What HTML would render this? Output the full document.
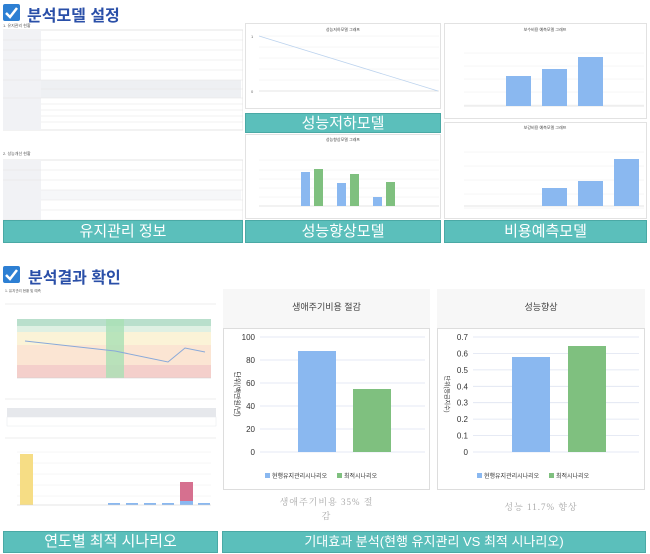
<!DOCTYPE html>
<html><head><meta charset="utf-8"><style>
*{margin:0;padding:0;box-sizing:border-box}
body{width:650px;height:554px;background:#fff;position:relative;overflow:hidden;font-family:"Liberation Sans","Noto Sans CJK KR",sans-serif}
.a{position:absolute}
.ban{position:absolute;background:#5bbfbb;color:#fff;text-align:center;font-size:15px;border:1px solid #4aa9a5}
.box{position:absolute;border:1px solid #e2e2e2;background:#fff}
.chk{position:absolute;width:17px;height:17px;background:#2d7fd3;border-radius:2px}
.ttl{position:absolute;color:#2a4fa8;font-weight:bold;font-size:16px}
</style></head><body>
<div class="chk" style="left:3px;top:4px"><svg width="17" height="17"><path d="M3 9 L7 13 L14 4" stroke="#fff" stroke-width="2.5" fill="none"/></svg></div>
<div class="ttl" style="left:27px;top:2px">분석모델 설정</div>

<svg class="a" style="left:3px;top:22px" width="240" height="198">
<rect x="0" y="8" width="240" height="100" fill="#fff" stroke="#e4e4e4"/>
<rect x="0" y="8" width="38" height="100" fill="#f1f2f5"/>
<rect x="38" y="58" width="200" height="18" fill="#eef0f3"/>
<g stroke="#e4e4e4" stroke-width="0.6">
<line x1="0" y1="18" x2="240" y2="18"/><line x1="0" y1="28" x2="240" y2="28"/><line x1="0" y1="38" x2="240" y2="38"/>
<line x1="38" y1="48" x2="240" y2="48"/><line x1="0" y1="58" x2="240" y2="58"/><line x1="38" y1="67" x2="240" y2="67"/>
<line x1="0" y1="76" x2="240" y2="76"/><line x1="38" y1="82" x2="240" y2="82"/><line x1="38" y1="88" x2="240" y2="88"/><line x1="38" y1="94" x2="240" y2="94"/><line x1="38" y1="100" x2="240" y2="100"/>
</g>
<rect x="0" y="138" width="240" height="78" fill="#fff" stroke="#e4e4e4"/>
<rect x="0" y="138" width="38" height="78" fill="#f1f2f5"/>
<rect x="38" y="168" width="200" height="10" fill="#f6f7f9"/>
<g stroke="#e4e4e4" stroke-width="0.6">
<line x1="0" y1="148" x2="240" y2="148"/><line x1="0" y1="158" x2="240" y2="158"/><line x1="38" y1="168" x2="240" y2="168"/><line x1="38" y1="178" x2="240" y2="178"/><line x1="38" y1="188" x2="240" y2="188"/><line x1="0" y1="198" x2="240" y2="198"/><line x1="38" y1="207" x2="240" y2="207"/>
</g>
<text x="0" y="5" font-size="4" fill="#555">1. 유지관리 현황</text>
<text x="0" y="133" font-size="4" fill="#555">2. 성능개선 현황</text>
</svg>
<div class="ban" style="left:3px;top:220px;width:240px;height:23px;line-height:21px">유지관리 정보</div>

<div class="box" style="left:245px;top:23px;width:196px;height:86px"></div>
<svg class="a" style="left:245px;top:23px" width="196" height="86">
<text x="98" y="8" font-size="4" text-anchor="middle" fill="#444">성능저하모델 그래프</text>
<g stroke="#eee" stroke-width="0.5"><line x1="14" y1="13" x2="194" y2="13"/><line x1="14" y1="24" x2="194" y2="24"/><line x1="14" y1="35" x2="194" y2="35"/><line x1="14" y1="46" x2="194" y2="46"/><line x1="14" y1="57" x2="194" y2="57"/></g>
<line x1="14" y1="68" x2="194" y2="68" stroke="#ccc" stroke-width="0.6"/>
<line x1="14" y1="13" x2="193" y2="68" stroke="#bcd3ee" stroke-width="0.8"/>
<text x="6" y="70" font-size="4" fill="#666">0</text><text x="6" y="15" font-size="4" fill="#666">1</text>
</svg>
<div class="ban" style="left:245px;top:113px;width:196px;height:20px;line-height:19px">성능저하모델</div>
<div class="box" style="left:245px;top:134px;width:196px;height:85px"></div>
<svg class="a" style="left:245px;top:134px" width="196" height="85">
<text x="98" y="7" font-size="4" text-anchor="middle" fill="#444">성능향상모델 그래프</text>
<g stroke="#eee" stroke-width="0.5"><line x1="14" y1="26" x2="194" y2="26"/><line x1="14" y1="36" x2="194" y2="36"/><line x1="14" y1="45" x2="194" y2="45"/><line x1="14" y1="54" x2="194" y2="54"/><line x1="14" y1="63" x2="194" y2="63"/></g>
<line x1="14" y1="72" x2="194" y2="72" stroke="#ccc" stroke-width="0.6"/>
<rect x="56" y="38" width="9" height="34" fill="#8ab8f0"/><rect x="69" y="35" width="9" height="37" fill="#7fc07f"/>
<rect x="92" y="49" width="9" height="23" fill="#8ab8f0"/><rect x="105" y="40" width="9" height="32" fill="#7fc07f"/>
<rect x="128" y="63" width="9" height="9" fill="#8ab8f0"/><rect x="141" y="48" width="9" height="24" fill="#7fc07f"/>
</svg>
<div class="ban" style="left:245px;top:220px;width:196px;height:23px;line-height:21px">성능향상모델</div>

<div class="box" style="left:444px;top:23px;width:203px;height:96px"></div>
<svg class="a" style="left:444px;top:23px" width="203" height="96">
<text x="101" y="8" font-size="4" text-anchor="middle" fill="#444">보수비용 예측모델 그래프</text>
<g stroke="#eee" stroke-width="0.5"><line x1="20" y1="30" x2="200" y2="30"/><line x1="20" y1="43" x2="200" y2="43"/><line x1="20" y1="56" x2="200" y2="56"/><line x1="20" y1="69" x2="200" y2="69"/><line x1="20" y1="82" x2="200" y2="82"/></g>
<line x1="20" y1="83" x2="200" y2="83" stroke="#ccc" stroke-width="0.6"/>
<rect x="62" y="53" width="25" height="30" fill="#8ab8f0"/><rect x="98" y="46" width="25" height="37" fill="#8ab8f0"/><rect x="134" y="34" width="25" height="49" fill="#8ab8f0"/>
</svg>
<div class="box" style="left:444px;top:122px;width:203px;height:97px"></div>
<svg class="a" style="left:444px;top:122px" width="203" height="97">
<text x="101" y="7" font-size="4" text-anchor="middle" fill="#444">보강비용 예측모델 그래프</text>
<g stroke="#eee" stroke-width="0.5"><line x1="20" y1="30" x2="200" y2="30"/><line x1="20" y1="44" x2="200" y2="44"/><line x1="20" y1="58" x2="200" y2="58"/><line x1="20" y1="72" x2="200" y2="72"/><line x1="20" y1="86" x2="200" y2="86"/></g>
<line x1="20" y1="84" x2="200" y2="84" stroke="#ccc" stroke-width="0.6"/>
<rect x="98" y="66" width="25" height="18" fill="#8ab8f0"/><rect x="134" y="59" width="25" height="25" fill="#8ab8f0"/><rect x="170" y="37" width="25" height="47" fill="#8ab8f0"/>
</svg>
<div class="ban" style="left:444px;top:220px;width:203px;height:23px;line-height:21px">비용예측모델</div>

<div class="chk" style="left:3px;top:266px"><svg width="17" height="17"><path d="M3 9 L7 13 L14 4" stroke="#fff" stroke-width="2.5" fill="none"/></svg></div>
<div class="ttl" style="left:28px;top:264px">분석결과 확인</div>

<svg class="a" style="left:3px;top:288px" width="215" height="240">
<text x="2" y="4" font-size="3.5" fill="#555">1. 유지관리 현황 및 예측</text>
<line x1="2" y1="16" x2="213" y2="16" stroke="#eee"/>
<rect x="14" y="31" width="194" height="7" fill="#b9dfcc"/>
<rect x="14" y="38" width="194" height="6" fill="#dff0e3"/>
<rect x="14" y="44" width="194" height="13" fill="#fbf3d7"/>
<rect x="14" y="57" width="194" height="20" fill="#fbe5d3"/>
<rect x="14" y="77" width="194" height="13" fill="#f4cfcb"/>
<rect x="103" y="31" width="18" height="59" fill="#a9e0b4" opacity="0.8"/>
<polyline points="22,53 112,63 165,74 182,60 202,64" fill="none" stroke="#89a9d9" stroke-width="1"/>
<line x1="14" y1="90" x2="208" y2="90" stroke="#ccc" stroke-width="0.5"/>
<line x1="2" y1="111" x2="213" y2="111" stroke="#eee"/>
<rect x="4" y="120" width="209" height="9" fill="#e6e8ec"/>
<rect x="4" y="129" width="209" height="9" fill="#fff" stroke="#e6e8ec" stroke-width="0.5"/>
<line x1="2" y1="150" x2="213" y2="150" stroke="#eee"/>
<g stroke="#eee" stroke-width="0.5"><line x1="14" y1="164" x2="208" y2="164"/><line x1="14" y1="175" x2="208" y2="175"/><line x1="14" y1="186" x2="208" y2="186"/><line x1="14" y1="197" x2="208" y2="197"/><line x1="14" y1="208" x2="208" y2="208"/></g>
<rect x="17" y="166" width="13" height="51" fill="#f6dd85"/>
<rect x="177" y="194" width="13" height="23" fill="#d6708f"/>
<rect x="177" y="213" width="13" height="4" fill="#8ab8f0"/>
<g fill="#8ab8f0"><rect x="105" y="215" width="12" height="2"/><rect x="123" y="215" width="12" height="2"/><rect x="141" y="215" width="12" height="2"/><rect x="159" y="215" width="12" height="2"/><rect x="195" y="215" width="12" height="2"/></g>
<line x1="14" y1="217" x2="208" y2="217" stroke="#ccc" stroke-width="0.5"/>
</svg>
<div class="ban" style="left:3px;top:531px;width:215px;height:22px;line-height:20px">연도별 최적 시나리오</div>

<div class="a" style="left:223px;top:289px;width:207px;height:39px;background:#f7f7f7;text-align:center;font-size:9px;color:#444;line-height:36px">생애주기비용 절감</div>
<div class="box" style="left:223px;top:328px;width:207px;height:162px;border-color:#ddd"></div>
<svg class="a" style="left:223px;top:328px" width="207" height="162">
<g stroke="#dde3f0" stroke-width="0.8"><line x1="37" y1="9" x2="202" y2="9"/><line x1="37" y1="32" x2="202" y2="32"/><line x1="37" y1="55" x2="202" y2="55"/><line x1="37" y1="78" x2="202" y2="78"/><line x1="37" y1="101" x2="202" y2="101"/><line x1="37" y1="124" x2="202" y2="124"/></g>
<g font-size="8" fill="#333" text-anchor="end"><text x="32" y="12">100</text><text x="32" y="35">80</text><text x="32" y="58">60</text><text x="32" y="81">40</text><text x="32" y="104">20</text><text x="32" y="127">0</text></g>
<text transform="translate(12,66) rotate(90)" font-size="7" fill="#333" text-anchor="middle">단위(백만원/년)</text>
<rect x="75" y="23" width="38" height="101" fill="#8ab8f0"/>
<rect x="130" y="61" width="38" height="63" fill="#7fc07f"/>
<rect x="42" y="145" width="5" height="5" fill="#8ab8f0"/><text x="49" y="150" font-size="6" fill="#333">현행유지관리시나리오</text>
<rect x="114" y="145" width="5" height="5" fill="#7fc07f"/><text x="121" y="150" font-size="6" fill="#333">최적시나리오</text>
</svg>
<div class="a" style="left:223px;top:495px;width:207px;text-align:center;font-family:'Liberation Serif','Noto Serif CJK SC',serif;font-size:9px;color:#aaa;letter-spacing:1px;line-height:14px">생애주기비용 35% 절<br>감</div>

<div class="a" style="left:437px;top:289px;width:208px;height:39px;background:#f7f7f7;text-align:center;font-size:9px;color:#444;line-height:36px">성능향상</div>
<div class="box" style="left:437px;top:328px;width:208px;height:162px;border-color:#ddd"></div>
<svg class="a" style="left:437px;top:328px" width="208" height="162">
<g stroke="#dde3f0" stroke-width="0.8"><line x1="36" y1="9" x2="202" y2="9"/><line x1="36" y1="25.4" x2="202" y2="25.4"/><line x1="36" y1="41.9" x2="202" y2="41.9"/><line x1="36" y1="58.3" x2="202" y2="58.3"/><line x1="36" y1="74.7" x2="202" y2="74.7"/><line x1="36" y1="91.1" x2="202" y2="91.1"/><line x1="36" y1="107.6" x2="202" y2="107.6"/><line x1="36" y1="124" x2="202" y2="124"/></g>
<g font-size="8" fill="#333" text-anchor="end"><text x="31" y="12">0.7</text><text x="31" y="28.4">0.6</text><text x="31" y="44.9">0.5</text><text x="31" y="61.3">0.4</text><text x="31" y="77.7">0.3</text><text x="31" y="94.1">0.2</text><text x="31" y="110.6">0.1</text><text x="31" y="127">0</text></g>
<text transform="translate(8,66) rotate(90)" font-size="6" fill="#333" text-anchor="middle">단위(등급지수)</text>
<rect x="75" y="29" width="38" height="95" fill="#8ab8f0"/>
<rect x="131" y="18" width="38" height="106" fill="#7fc07f"/>
<rect x="40" y="145" width="5" height="5" fill="#8ab8f0"/><text x="47" y="150" font-size="6" fill="#333">현행유지관리시나리오</text>
<rect x="112" y="145" width="5" height="5" fill="#7fc07f"/><text x="119" y="150" font-size="6" fill="#333">최적시나리오</text>
</svg>
<div class="a" style="left:437px;top:500px;width:208px;text-align:center;font-family:'Liberation Serif','Noto Serif CJK SC',serif;font-size:9px;color:#aaa;letter-spacing:1px">성능 11.7% 향상</div>

<div class="ban" style="left:222px;top:531px;width:424px;height:22px;line-height:20px;font-size:13px">기대효과 분석(현행 유지관리 VS 최적 시나리오)</div>
</body></html>
